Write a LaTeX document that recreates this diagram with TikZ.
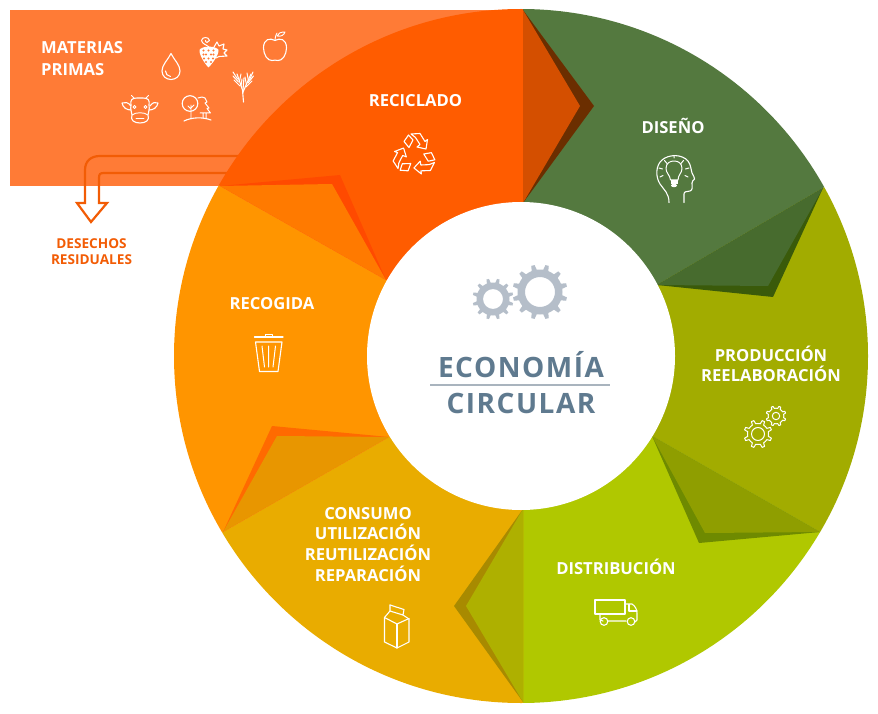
\documentclass[tikz,border=0pt]{standalone}
\usepackage{fontspec}
\setmainfont{Open Sans}
\newfontfamily\ttl[LetterSpace=5.4]{Open Sans}
\definecolor{cRect}{HTML}{FF7B36}
\definecolor{cReci}{HTML}{FF5C00}
\definecolor{cReciD}{HTML}{D44F00}
\definecolor{cReciS}{HTML}{6B2E00}
\definecolor{cDis}{HTML}{54793F}
\definecolor{cDisD}{HTML}{476B2E}
\definecolor{cDisS}{HTML}{3A5A0A}
\definecolor{cProd}{HTML}{A2AC00}
\definecolor{cProdD}{HTML}{8F9E00}
\definecolor{cProdS}{HTML}{6E8A00}
\definecolor{cDist}{HTML}{B0C800}
\definecolor{cDistD}{HTML}{AEB000}
\definecolor{cDistS}{HTML}{A88A00}
\definecolor{cCons}{HTML}{E9AC00}
\definecolor{cConsD}{HTML}{E89600}
\definecolor{cConsS}{HTML}{FF6A00}
\definecolor{cRec}{HTML}{FF9500}
\definecolor{cRecD}{HTML}{FF7A00}
\definecolor{cRecS}{HTML}{FF4A00}
\definecolor{cArrow}{HTML}{F25C05}
\definecolor{cGear}{HTML}{B5BEC9}
\definecolor{cTitle}{HTML}{5F7A8F}
\definecolor{cRule}{HTML}{A9B4BE}
\tikzset{
  lab/.style={text=white,font=\bfseries\fontsize{16.6}{16.6}\selectfont,inner sep=0pt,anchor=base},
  icon/.style={draw=white,line width=1.1pt,line join=round,line cap=round,fill=none},
  titletext/.style={text=cTitle,font=\ttl\bfseries\fontsize{28}{28}\selectfont,inner sep=0pt,anchor=base},
  wastetext/.style={text=cArrow,font=\bfseries\fontsize{13.6}{13.6}\selectfont,inner sep=0pt,anchor=base},
}
% gear outline: x y Router Rroot teeth
\newcommand\gearoutline[5]{%
  [shift={(#1,#2)}] (0:#4)
  \foreach \gi [evaluate=\gi as \ga using {\gi*360/#5}] in {1,...,#5} {
    -- ({\ga-360/#5*0.72}:#4) -- ({\ga-360/#5*0.62}:#3) -- ({\ga-360/#5*0.38}:#3) -- ({\ga-360/#5*0.28}:#4) -- (\ga:#4)
  } -- cycle
}
\begin{document}
\begin{tikzpicture}[x=1pt,y=-1pt]
\useasboundingbox (0,0) rectangle (878,714);
% raw material panel
\fill[cRect] (10,10) rectangle (523,186);
% waste arrow
\draw[cArrow,line width=2.2pt,line join=miter] (240,156) -- (100,156) .. controls (91,156) and (85,161) .. (85,170) -- (85,203) -- (77,203) -- (91,222) -- (107,203) -- (99,203) -- (99,178) .. controls (99,174) and (100,173) .. (104,173) -- (230,173);
% ring
\begin{scope}
\clip (521,356) circle (347);
\fill[cReci] (521,356) -- (523,203) -- (523,0) -- (0,0) -- (0,60) -- (220,186) -- (386,280) -- cycle;
\fill[cDis] (521,356) -- (523,203) -- (523,0) -- (878,0) -- (878,156) -- (823,188) -- (657,285) -- cycle;
\fill[cProd] (521,356) -- (657,285) -- (823,188) -- (878,156) -- (878,564) -- (820,532) -- (652,436) -- cycle;
\fill[cDist] (521,356) -- (652,436) -- (820,532) -- (878,564) -- (878,714) -- (523,714) -- (523,509) -- cycle;
\fill[cCons] (521,356) -- (523,509) -- (523,714) -- (0,714) -- (0,658) -- (223,532) -- (389,437) -- cycle;
\fill[cRec] (521,356) -- (389,437) -- (223,532) -- (0,658) -- (0,60) -- (220,186) -- (386,280) -- cycle;
% folds
\fill[cReciS] (523,10) -- (594,106) -- (523,203) -- cycle;
\fill[cReciD] (523,10) -- (580,106) -- (523,203) -- cycle;
\fill[cDisS] (823,188) -- (773,297) -- (657,285) -- cycle;
\fill[cDisD] (823,188) -- (768,286) -- (657,285) -- cycle;
\fill[cProdS] (820,532) -- (699,543) -- (652,436) -- cycle;
\fill[cProdD] (820,532) -- (705,533) -- (652,436) -- cycle;
\fill[cDistS] (523,702) -- (454,606) -- (523,509) -- cycle;
\fill[cDistD] (523,702) -- (466,606) -- (523,509) -- cycle;
\fill[cConsS] (223,532) -- (272,426) -- (389,437) -- cycle;
\fill[cConsD] (223,532) -- (277,436) -- (389,437) -- cycle;
\fill[cRecS] (220,186) -- (340,175) -- (386,280) -- cycle;
\fill[cRecD] (220,186) -- (332,184) -- (386,280) -- cycle;
\end{scope}
\fill[white] (521,356) circle (154);
% centre gears
\fill[cGear,even odd rule] \gearoutline{540}{292}{27.5}{22.5}{12} (0,0) circle (15);
\fill[cGear,even odd rule] \gearoutline{493}{299}{20.5}{16.5}{12} (0,0) circle (10);
% title
\node[titletext] (t1) at (521,377) {ECONOMÍA};
\node[titletext] (t2) at (521,413) {CIRCULAR};
\draw[cRule,line width=1.1pt] (430,385) -- (610,385);
% labels
\node[lab,anchor=base west] (mat) at (41,54) {MATERIAS};
\node[lab,anchor=base west] (pri) at (41,75.5) {PRIMAS};
\node[wastetext] (des1) at (91.5,248) {DESECHOS};
\node[wastetext] (des2) at (91.5,265) {RESIDUALES};
\node[lab] (reci) at (415.5,107) {RECICLADO};
\node[lab] (dis) at (673,134) {DISEÑO};
\node[lab] (pro1) at (771,361) {PRODUCCIÓN};
\node[lab] (pro2) at (771,381) {REELABORACIÓN};
\node[lab] (dist) at (616,574) {DISTRIBUCIÓN};
\node[lab] (con1) at (368,519) {CONSUMO};
\node[lab] (con2) at (368,539.5) {UTILIZACIÓN};
\node[lab] (con3) at (368,560) {REUTILIZACIÓN};
\node[lab] (con4) at (368,581) {REPARACIÓN};
\node[lab] (reco) at (272,309) {RECOGIDA};
% drop
\draw[icon] (171,53.5) .. controls (167,61) and (162,65) .. (162,71) .. controls (162,76) and (166,79.5) .. (171,79.5) .. controls (176,79.5) and (180,76) .. (180,71) .. controls (180,65) and (175,61) .. (171,53.5) -- cycle;
\draw[icon] (165.5,71) .. controls (165.5,74) and (167.5,76) .. (170.5,76.5);
% grapes
\fill[white] (199.5,50) .. controls (202,45.5) and (216,45.5) .. (218.5,50) .. controls (219,55) and (212,64) .. (208.5,67.5) .. controls (205,64) and (199,55) .. (199.5,50) -- cycle;
\foreach \gx/\gy in {203.5/50.5,208.5/50.5,213.5/50.5,206/54.5,211/54.5,203.5/54.5,213.5/54.5,208.5/58.5,206/62,211/62,204/58.5,213/58.5}
  \fill[cRect] (\gx,\gy) circle (1.05);
\draw[icon,line width=1pt] (209,47) .. controls (207,45) and (202,44) .. (201.5,40.5) .. controls (202,36.5) and (209,36.5) .. (209.5,40.5) .. controls (209,43) and (205,43) .. (205.5,40.5);
\draw[icon,line width=1.1pt] (214,47) -- (217,42) -- (219,46) -- (224,44) -- (223,49) -- (227,50) -- (224,53) -- (227,56) -- (219,56.5) -- (216,58);
% apple
\draw[icon] (275,40.5) .. controls (270,37.5) and (263.5,39) .. (263.5,48) .. controls (263.5,55) and (268,61) .. (272,60.5) .. controls (274,60) and (276,60) .. (278,60.5) .. controls (282,61) and (286.5,55) .. (286.5,48) .. controls (286.5,39) and (280,37.5) .. (275,40.5) -- cycle;
\draw[icon,line width=0.9pt] (275,40) .. controls (275,37) and (276,35) .. (277,33);
\draw[icon,line width=0.9pt] (277,36) .. controls (278,33) and (281,32) .. (285,32) .. controls (284,35) and (281,37) .. (277,36) -- cycle;
% wheat
\draw[icon] (243.5,102) -- (242.5,90) -- (237,74);
\draw[icon] (243,92) -- (251,74);
\draw[icon] (242.7,93) -- (244,78);
\foreach \wa/\wb/\wc/\wd in {233/72/237.5/79,233/76/238.5/82,234/80/240/86,241/74/239.5/81,242/79/241/86,253/72/249.5/80,253.5/76/248/83,252/81/246/87,247/73/248.5/81,245/77/246.5/85}
  \draw[icon,line width=1pt] (\wa,\wb) -- (\wc,\wd);
% cow
\draw[icon] (131,106) .. controls (128,102) and (125,102) .. (122,103) .. controls (123,108) and (127,110) .. (131,110);
\draw[icon] (150,106) .. controls (153,102) and (155,102) .. (158,103) .. controls (157,108) and (153,110) .. (149,110);
\draw[icon] (131,105) .. controls (130,100) and (132,98) .. (137,98) -- (143,98) .. controls (148,98) and (150,100) .. (149,105) .. controls (150,110) and (148,112) .. (148,115) .. controls (150,120) and (146,123) .. (140,123) .. controls (134,123) and (130,120) .. (132,115) .. controls (132,112) and (130,110) .. (131,105) -- cycle;
\draw[icon,line width=0.9pt] (132,115) .. controls (136,112) and (144,112) .. (148,115);
\draw[icon,line width=0.9pt] (136,118) -- (144,118);
\draw[icon,line width=0.9pt] (134,98) -- (131.5,95.5) (146,98) -- (148.5,95.5);
\draw[icon,line width=0.9pt] (134.5,107) circle (1.6) (145.5,107) circle (1.6);
% trees
\draw[icon] (190,103.5) circle (7.8);
\draw[icon,line width=0.9pt] (191,119) -- (191,105) (191,109) -- (188,106) (191,108) -- (194,105);
\draw[icon,line width=1pt] (198,98) -- (202,97) -- (205,98) -- (207,102) -- (205,103) -- (209,108) -- (207,108.5) -- (210.5,113) -- (200,113) (203,113) -- (203,118) (206,113) -- (206,118);
\draw[icon] (184,121) .. controls (192,117) and (203,117) .. (211,120);
% recycling
\foreach \ra in {0,120,240} {
  \begin{scope}[rotate around={\ra:(414.5,155)}]
  \draw[icon] (404,141.5) -- (408.5,135) -- (413,140) -- (409,147.5) -- cycle;
  \draw[icon] (411,134) -- (420,133.5) -- (425,141.5) -- (427.5,139.5) -- (426,149) -- (417,147) -- (420,144.5) -- (415.5,137.5) -- cycle;
  \end{scope}
}
% head with bulb
\draw[icon] (669,202.5) .. controls (669,193) and (664,190) .. (660,184) .. controls (655,176) and (656,165) .. (662,160) .. controls (669,154) and (682,154) .. (688,161) .. controls (691,165) and (691,170) .. (692,173) .. controls (693,176) and (695,177) .. (694.5,179) .. controls (693,181) and (692,181) .. (692,183) .. controls (692,187) and (693,190) .. (690,191) .. controls (687,192) and (684,191) .. (684,194) -- (684,202.5);
\draw[icon,line width=1pt] (670.5,180) .. controls (670,175) and (666,173) .. (666,168.5) .. controls (666,163) and (670,161) .. (674,161) .. controls (678,161) and (682,163) .. (682,168.5) .. controls (682,173) and (678,175) .. (678,180) -- cycle;
\fill[white] (670.5,180.5) rectangle (678,184.5);
\fill[white] (674,185.5) ellipse (3 and 1.7);
\draw[icon,line width=1pt] (674,158) -- (674,156.5) (664.5,160.5) -- (667,163.5) (683.5,160.5) -- (681,163.5) (659,168) -- (662.5,169) (689,168) -- (685.5,169) (660,177) -- (663,175.5) (688,177) -- (685,175.5);
% production gears
\draw[icon,line width=1pt] \gearoutline{758}{434}{14}{10.5}{8};
\draw[icon,line width=1pt] (758,434) circle (6.5);
\draw[icon,line width=1pt] \gearoutline{776}{416}{10}{7.8}{8};
\draw[icon,line width=1pt] (776,416) circle (3.7);
% truck
\draw[icon] (595,600) rectangle (625,614);
\draw[icon] (625,604) -- (632,604) .. controls (635,606) and (637,609) .. (637,613) -- (637,620) -- (635,622);
\draw[icon] (629,604.5) -- (629,611) -- (637,611);
\draw[icon] (600,614) -- (600,620) -- (603,621) (608,621) -- (626,621);
\draw[icon] (604,621.5) circle (3.8) (631,621.5) circle (3.8);
% carton
\draw[icon] (384.5,617.5) -- (384.5,642) -- (397,648) -- (409,642) -- (409,619);
\draw[icon] (397,624) -- (397,648);
\draw[icon] (384.5,617.5) -- (397,624) -- (409,618.5);
\draw[icon] (390,605) -- (390,611) -- (384.5,617.5);
\draw[icon] (390,605) -- (404,609.5) -- (403,615) -- (390,611);
\draw[icon] (403,615) -- (409,619);
% trash
\draw[icon] (254.5,337) -- (283,337);
\draw[icon,line width=1pt] (265,336.5) -- (265,334) -- (272.5,334) -- (272.5,336.5);
\draw[icon] (255.5,342) -- (282,342) -- (278,371.5) -- (259.5,371.5) -- cycle;
\draw[icon,line width=1pt] (262,346) -- (264.5,367) (268.5,346) -- (268.5,367) (275.5,346) -- (273,367);
\end{tikzpicture}
\end{document}
